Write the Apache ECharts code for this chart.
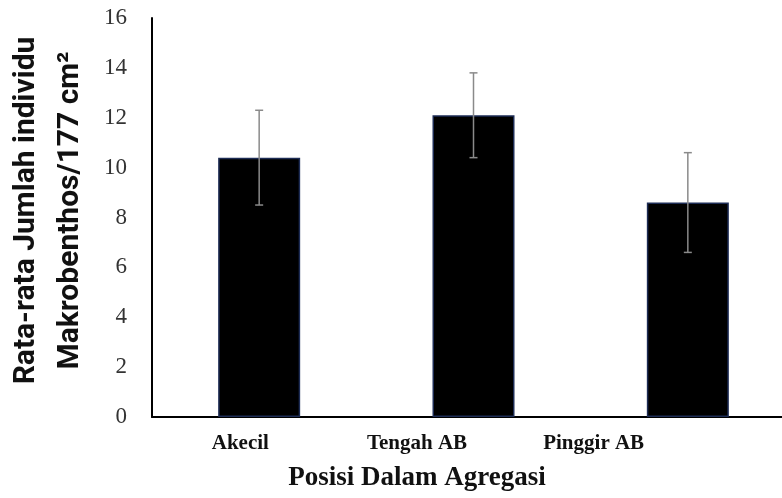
<!DOCTYPE html>
<html>
<head>
<meta charset="utf-8">
<script src="https://cdn.jsdelivr.net/npm/echarts@6/dist/echarts.min.js"></script>
<style>
html,body{margin:0;padding:0;background:#fff;}
#chart{width:782px;height:498px;}
</style>
</head>
<body>
<div id="chart"></div>
<script>
const categories = ['Akecil', 'Tengah AB', 'Pinggir AB'];
const means = [10.4, 12.1, 8.6];
const errors = [1.9, 1.7, 2.0];
const yTicks = [0, 2, 4, 6, 8, 10, 12, 14, 16];

const chart = echarts.init(document.getElementById('chart'));
const errData = categories.map((c, i) => [i, means[i] - errors[i], means[i] + errors[i]]);

chart.setOption({
  animation: false,
  backgroundColor: '#fff',
  grid: [
    {left: 152, right: -13, top: 18, bottom: 81, containLabel: false, outerBoundsMode: 'none'},
    {left: 152, right: 100, top: 18, bottom: 81, containLabel: false, outerBoundsMode: 'none'}
  ],
  xAxis: [
    {
      gridIndex: 0, type: 'category', data: categories,
      axisLine: {show: true, lineStyle: {color: '#000', width: 2}},
      axisTick: {show: false}, axisLabel: {show: false}
    },
    {
      gridIndex: 1, type: 'category', data: categories,
      axisLine: {show: false}, axisTick: {show: false},
      axisLabel: {show: true, margin: 16, fontFamily: 'Liberation Serif', fontWeight: 'bold', fontSize: 21, color: '#111'},
      name: 'Posisi Dalam Agregasi', nameLocation: 'middle', nameGap: 48,
      nameTextStyle: {fontFamily: 'Liberation Serif', fontWeight: 'bold', fontSize: 27, color: '#111'}
    }
  ],
  yAxis: [
    {
      gridIndex: 0, type: 'value', min: yTicks[0], max: yTicks[yTicks.length - 1], interval: 2,
      axisLine: {show: true, lineStyle: {color: '#000', width: 2}},
      axisTick: {show: false}, splitLine: {show: false},
      axisLabel: {margin: 25, fontFamily: 'Liberation Serif', fontSize: 23, color: '#333'},
      name: 'Rata-rata Jumlah individu\nMakrobenthos/177 cm²', nameLocation: 'middle', nameGap: 60, nameRotate: 90,
      nameTextStyle: {fontFamily: 'Roboto', fontWeight: 'bold', fontSize: 30, color: '#111', lineHeight: 44, padding: [0, 0, 0, 14]}
    },
    {
      gridIndex: 1, type: 'value', min: 0, max: 16, show: false
    }
  ],
  series: [
    {
      type: 'bar', xAxisIndex: 0, yAxisIndex: 0, data: means, barWidth: 82,
      itemStyle: {color: '#000', borderColor: '#1d2c55', borderWidth: 1.5}
    },
    {
      type: 'custom', xAxisIndex: 0, yAxisIndex: 0, data: errData, z: 10,
      renderItem: function (params, api) {
        const x = api.value(0);
        const lo = api.coord([x, api.value(1)]);
        const hi = api.coord([x, api.value(2)]);
        const cw = 4;
        const st = {stroke: '#8a8a8a', lineWidth: 1.5};
        return {
          type: 'group',
          children: [
            {type: 'line', shape: {x1: hi[0], y1: hi[1], x2: lo[0], y2: lo[1]}, style: st},
            {type: 'line', shape: {x1: hi[0] - cw, y1: hi[1], x2: hi[0] + cw, y2: hi[1]}, style: st},
            {type: 'line', shape: {x1: lo[0] - cw, y1: lo[1], x2: lo[0] + cw, y2: lo[1]}, style: st}
          ]
        };
      }
    }
  ]
});
</script>
</body>
</html>
